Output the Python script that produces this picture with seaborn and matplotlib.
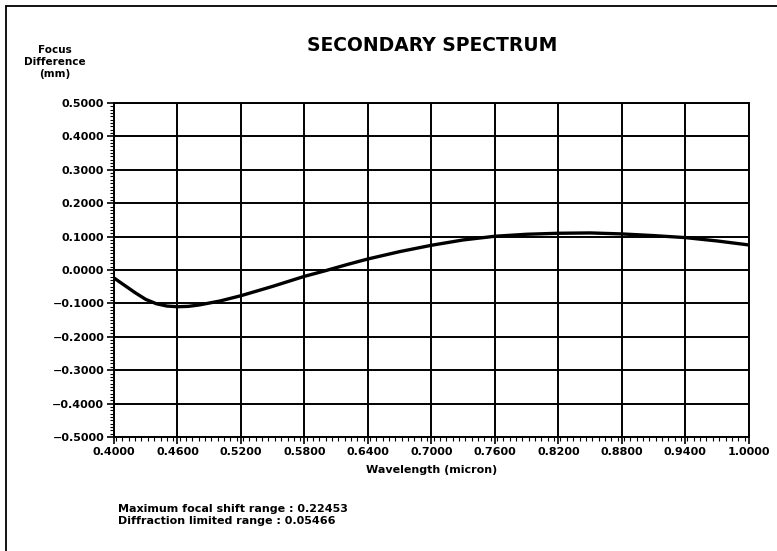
import numpy as np
import pandas as pd
import seaborn as sns
import matplotlib.pyplot as plt
from matplotlib.ticker import MultipleLocator, FormatStrFormatter, FuncFormatter
from matplotlib.lines import Line2D

# values
wavelength = [0.40, 0.41, 0.42, 0.43, 0.44, 0.45, 0.46, 0.47, 0.48, 0.49,
              0.50, 0.52, 0.55, 0.58, 0.60, 0.62, 0.64, 0.67, 0.70, 0.73,
              0.76, 0.79, 0.82, 0.85, 0.88, 0.91, 0.94, 0.97, 1.00]
focus_diff = [-0.024, -0.046, -0.068, -0.088, -0.101, -0.108, -0.110, -0.109, -0.105, -0.099,
              -0.093, -0.077, -0.049, -0.019, -0.002, 0.016, 0.033, 0.055, 0.074, 0.090,
              0.101, 0.107, 0.110, 0.111, 0.108, 0.103, 0.097, 0.087, 0.075]
x_ticks = [0.40, 0.46, 0.52, 0.58, 0.64, 0.70, 0.76, 0.82, 0.88, 0.94, 1.00]
y_ticks = [-0.5, -0.4, -0.3, -0.2, -0.1, 0.0, 0.1, 0.2, 0.3, 0.4, 0.5]
notes = ["Maximum focal shift range : 0.22453",
         "Diffraction limited range : 0.05466"]

df = pd.DataFrame({'wavelength': wavelength, 'focus': focus_diff})

sns.set_style("white")
plt.rcParams['font.family'] = ['DejaVu Sans']
plt.rcParams['text.color'] = 'black'
plt.rcParams['axes.labelcolor'] = 'black'
plt.rcParams['xtick.color'] = 'black'
plt.rcParams['ytick.color'] = 'black'

fig = plt.figure(figsize=(7.77, 5.51), dpi=100)
ax = fig.add_axes([0.1467, 0.207, 0.817, 0.606])

sns.lineplot(data=df, x='wavelength', y='focus', ax=ax, color='black', linewidth=2.4)

ax.set_xlim(0.4, 1.0)
ax.set_ylim(-0.5, 0.5)
ax.set_xticks(x_ticks)
ax.set_yticks(y_ticks)
ax.xaxis.set_minor_locator(MultipleLocator(0.006))
ax.yaxis.set_minor_locator(MultipleLocator(0.01))
ax.xaxis.set_major_formatter(FormatStrFormatter('%.4f'))
ax.yaxis.set_major_formatter(FuncFormatter(lambda v, p: ('%.4f' % (0.0 if abs(v) < 1e-9 else v)).replace('-', '\u2212')))
ax.grid(True, which='major', color='black', linewidth=1.4)
ax.tick_params(which='major', direction='out', length=5, width=1.2, colors='black',
               labelsize=8, pad=2, bottom=True, left=True)
ax.tick_params(which='minor', direction='out', length=3, width=0.8, colors='black',
               bottom=True, left=True)
for lab in ax.get_xticklabels() + ax.get_yticklabels():
    lab.set_fontweight('bold')
for s in ax.spines.values():
    s.set_color('black')
    s.set_linewidth(1.4)

ax.set_xlabel('Wavelength (micron)', fontsize=8, fontweight='bold', labelpad=6, color='black')
ax.set_ylabel('')

fig.text(0.556, 0.917, 'SECONDARY SPECTRUM', ha='center', va='center',
         fontsize=13.5, fontweight='bold', color='black')
fig.text(0.071, 0.888, 'Focus\nDifference\n(mm)', ha='center', va='center',
         fontsize=7.5, fontweight='bold', linespacing=1.25, color='black')
fig.text(0.152, 0.065, notes[0] + '\n' + notes[1], ha='left', va='center',
         fontsize=8, fontweight='bold', linespacing=1.3, color='black')

# outer frame of the page
for xs, ys in [([0.008, 0.008], [0.0, 0.99]), ([0.008, 1.0], [0.99, 0.99])]:
    fig.add_artist(Line2D(xs, ys, color='black', linewidth=1.3, transform=fig.transFigure))

fig.savefig('out.png', dpi=100)
